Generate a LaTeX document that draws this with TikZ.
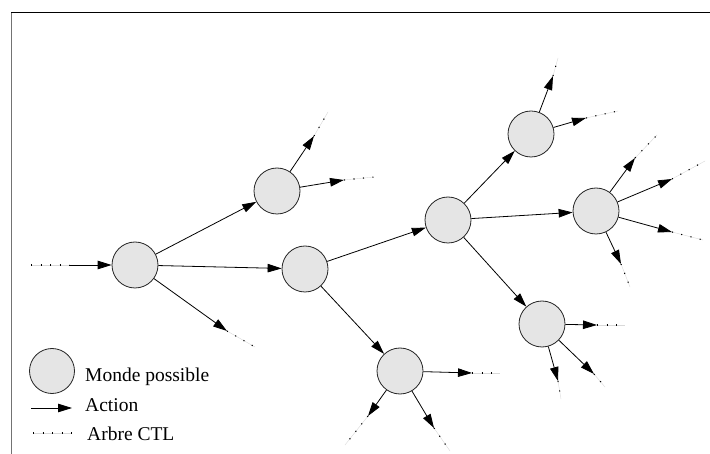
\documentclass[tikz,border=0pt]{standalone}
\usepackage{fontspec}
\setmainfont{Liberation Serif}
\usetikzlibrary{arrows.meta}
\definecolor{worldfill}{HTML}{E5E5E5}
\tikzset{
  x=1pt,y=-1pt,
  world/.style={circle,draw=black!85,line width=0.8pt,fill=worldfill,minimum size=46pt,inner sep=0pt},
  act/.style={line width=0.8pt,-{Triangle[length=14pt,width=8.5pt]}},
  ctl/.style={line width=1.1pt,dash pattern=on 1.1pt off 8.4pt,line cap=butt},
  ctlbg/.style={line width=0.4pt,draw=black!15},
  lbl/.style={anchor=base west,inner sep=0pt,font=\fontsize{19.5}{23}\selectfont}
}
\newcommand{\ctlline}[2]{\draw[ctlbg] (#1) -- (#2); \draw[ctl] (#1) -- (#2);}
\begin{document}
\begin{tikzpicture}
\useasboundingbox (0,0) rectangle (710,454);
% frame
\draw[line width=1pt] (11,13) -- (710,13);
\draw[line width=1.3pt,draw=black!55] (11.5,13) -- (11.5,454);

% worlds
\node[world] (A) at (135,265) {};
\node[world] (B) at (277,191) {};
\node[world] (C) at (305,269) {};
\node[world] (D) at (448,220) {};
\node[world] (E) at (531,134) {};
\node[world] (F) at (596,211) {};
\node[world] (G) at (542,324) {};
\node[world] (H) at (400,371) {};

% coordinates
\coordinate (a0) at (31,265);
\coordinate (a1) at (69,265);
\coordinate (at1) at (227,331); \coordinate (ae1) at (255,347);
\coordinate (bt1) at (314,136); \coordinate (be1) at (328,112);
\coordinate (bt2) at (344,180); \coordinate (be2) at (374,177);
\coordinate (et1) at (553,76);  \coordinate (ee1) at (558,58);
\coordinate (et2) at (586,118); \coordinate (ee2) at (618,111);
\coordinate (ft1) at (635,158); \coordinate (fe1) at (657,135);
\coordinate (ft2) at (672,179); \coordinate (fe2) at (705,161);
\coordinate (ft3) at (672,232); \coordinate (fe3) at (703,240);
\coordinate (ft4) at (621,264); \coordinate (fe4) at (630,287);
\coordinate (gt1) at (597,325); \coordinate (ge1) at (625,325);
\coordinate (gt2) at (594,374); \coordinate (ge2) at (605,387);
\coordinate (gt3) at (558,381); \coordinate (ge3) at (561,399);
\coordinate (ht1) at (472,373); \coordinate (he1) at (500,373);
\coordinate (ht2) at (368,416); \coordinate (he2) at (345,445);
\coordinate (ht3) at (434,428); \coordinate (he3) at (450,451);

% incoming
\ctlline{a0}{a1}
\draw[act] (a1) -- (A);
% world to world
\draw[act] (A) -- (B);
\draw[act] (A) -- (C);
\draw[act] (C) -- (D);
\draw[act] (C) -- (H);
\draw[act] (D) -- (E);
\draw[act] (D) -- (F);
\draw[act] (D) -- (G);
% outgoing with CTL continuation
\draw[act] (A) -- (at1); \ctlline{at1}{ae1}
\draw[act] (B) -- (bt1); \ctlline{bt1}{be1}
\draw[act] (B) -- (bt2); \ctlline{bt2}{be2}
\draw[act] (E) -- (et1); \ctlline{et1}{ee1}
\draw[act] (E) -- (et2); \ctlline{et2}{ee2}
\draw[act] (F) -- (ft1); \ctlline{ft1}{fe1}
\draw[act] (F) -- (ft2); \ctlline{ft2}{fe2}
\draw[act] (F) -- (ft3); \ctlline{ft3}{fe3}
\draw[act] (F) -- (ft4); \ctlline{ft4}{fe4}
\draw[act] (G) -- (gt1); \ctlline{gt1}{ge1}
\draw[act] (G) -- (gt2); \ctlline{gt2}{ge2}
\draw[act] (G) -- (gt3); \ctlline{gt3}{ge3}
\draw[act] (H) -- (ht1); \ctlline{ht1}{he1}
\draw[act] (H) -- (ht2); \ctlline{ht2}{he2}
\draw[act] (H) -- (ht3); \ctlline{ht3}{he3}

% legend
\node[world,minimum size=45pt] (L) at (52,371) {};
\node[lbl] (l1) at (85,382) {Monde possible};
\coordinate (la0) at (31,408); \coordinate (la1) at (72,408);
\draw[act] (la0) -- (la1);
\node[lbl] (l2) at (85,411) {Action};
\coordinate (lc0) at (33,433); \coordinate (lc1) at (72,433);
\ctlline{lc0}{lc1}
\node[lbl] (l3) at (87,440) {Arbre CTL};
\end{tikzpicture}
\end{document}
